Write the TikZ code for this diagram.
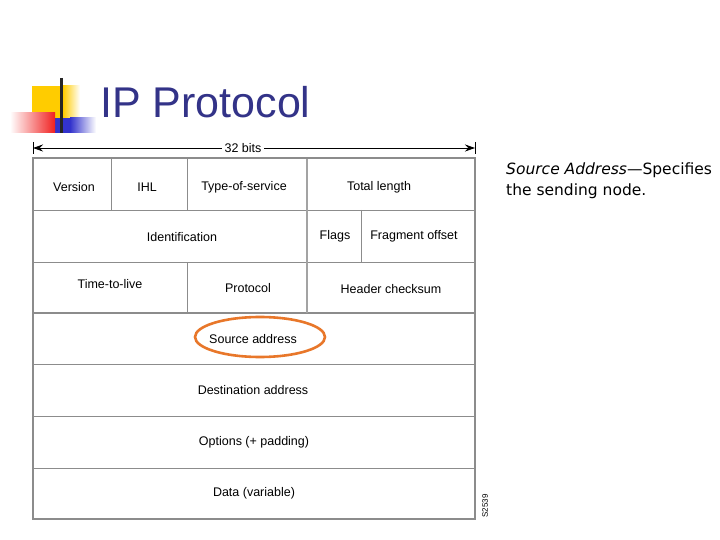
\documentclass[tikz,border=0pt]{standalone}
\usepackage{fontspec}
\setmainfont{Liberation Sans}
\newfontfamily\notefont{DejaVu Sans}
\usepackage{tikz}
\usetikzlibrary{arrows.meta,positioning,calc}
\definecolor{titleblue}{HTML}{333388}
\definecolor{gridgray}{HTML}{8C8C8C}
\definecolor{ringorange}{HTML}{E8772A}
\definecolor{logoyellow}{HTML}{FFCC00}
\definecolor{logoblue}{HTML}{3333CC}
\definecolor{logored}{HTML}{F02020}

\begin{document}
\begin{tikzpicture}[x=1pt, y=-1pt,
    field/.style={font=\fontsize{12.5}{14}\selectfont, inner sep=1pt},
    gridline/.style={gridgray, line width=0.9pt},
    boldline/.style={gridgray!80, line width=2pt}]
  \useasboundingbox (0,0) rectangle (720,540);

  % logo blocks
  \fill[logoyellow] (32,86) rectangle (63,118);
  \shade[left color=logoyellow, right color=white] (63,86) rectangle (80,118);
  \fill[logoblue] (55,118) rectangle (70,133);
  \shade[left color=logoblue, right color=white] (70,118) rectangle (96,133);
  \shade[left color=white, right color=logored] (10,113) rectangle (55,133);
  \draw[black!85, line width=3pt] (61,78) -- (61,133);

  % title
  \node[font=\fontsize{43}{46}\selectfont, text=titleblue, anchor=base west, inner sep=0pt] (title) at (100,118) {IP Protocol};

  % 32 bits arrow
  \coordinate (bitsL) at (33,148);
  \coordinate (bitsR) at (475,148);
  \draw[black, line width=0.7pt] (33,142) -- (33,154) (475,142) -- (475,154);
  \draw[{Stealth[length=10pt,width=7pt]}-{Stealth[length=10pt,width=7pt]}, line width=0.7pt] (bitsL) -- (bitsR);
  \node[field, fill=white, inner xsep=3pt] (bits) at (243,148) {32 bits};

  % header grid
  \foreach \y in {210,262,364,416,468}
    \draw[gridline] (33,\y) -- (475,\y);
  \draw[gridline, line width=1.3pt] (33,313) -- (475,313);
  \draw[gridline] (111,158) -- (111,210);
  \draw[gridline] (187,158) -- (187,210);
  \draw[gridline] (187,262) -- (187,313);
  \draw[gridline] (361,210) -- (361,262);
  \draw[boldline] (307,158) -- (307,313);
  \draw[gridline, line width=1.4pt] (33,158) rectangle (475,519);

  % field labels
  \node[field] (ver) at (74,187) {Version};
  \node[field] (ihl) at (147,187) {IHL};
  \node[field] (tos) at (244,187) {Type-of-service};
  \node[field] (totlen) at (379,187) {Total length};
  \node[field] (ident) at (182,237) {Identification};
  \node[field] (flags) at (335,236) {Flags};
  \node[field] (fragoff) at (414,236) {Fragment offset};
  \node[field] (ttl) at (110,284) {Time-to-live};
  \node[field] (proto) at (248,288) {Protocol};
  \node[field] (hdrsum) at (391,289) {Header checksum};
  \node[field] (srcaddr) at (253,339) {Source address};
  \node[field] (dstaddr) at (253,390) {Destination address};
  \node[field] (opts) at (254,442) {Options (+ padding)};
  \node[field] (data) at (254,493) {Data (variable)};
  \node[font=\fontsize{8}{9}\selectfont, rotate=90, inner sep=0pt] (figno) at (485,506) {S2539};

  % highlight ring
  \draw[ringorange, line width=2.6pt] (260,337) ellipse [x radius=65, y radius=20];

  % side note
  \node[font=\notefont\fontsize{15.5}{21}\selectfont, anchor=north west, align=left, inner sep=0pt] (note) at (506,163)
    {\textit{Source Address}—Specifies\\the sending node.};
\end{tikzpicture}
\end{document}
